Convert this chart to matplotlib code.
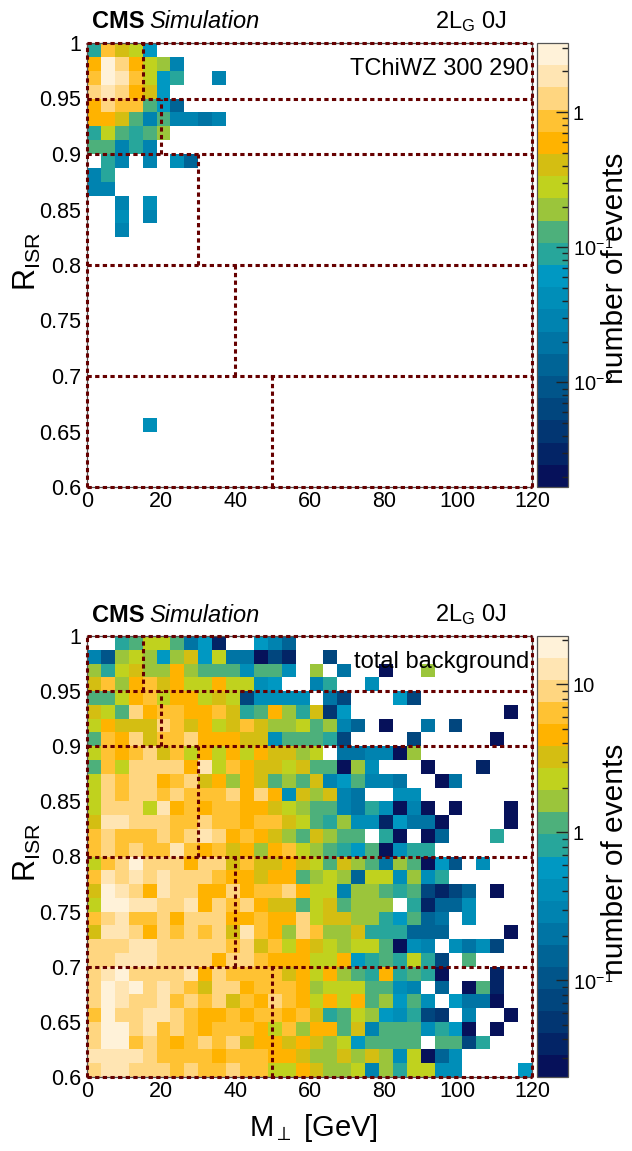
import numpy as np
import matplotlib
matplotlib.use("Agg")
import matplotlib.pyplot as plt
from matplotlib.colors import ListedColormap, LogNorm
from matplotlib.ticker import FixedLocator, FuncFormatter

plt.rcParams['font.family'] = ['Liberation Sans', 'DejaVu Sans']
plt.rcParams['mathtext.fontset'] = 'custom'
plt.rcParams['mathtext.rm'] = 'Liberation Sans'
plt.rcParams['mathtext.it'] = 'Liberation Sans:italic'
plt.rcParams['mathtext.bf'] = 'Liberation Sans:bold'

# ---------------- data ----------------
m_range = (0.0, 120.0)      # M_perp [GeV]
r_range = (0.6, 1.0)        # R_ISR
n_bins = 32

# 20-band palette (lowest -> highest)
band_colors = ['#06115a', '#032466', '#023672', '#01467e', '#01558a',
               '#006496', '#0074a4', '#0083b0', '#008eb8', '#0098c2',
               '#27a69b', '#4db07b', '#9bc53b', '#c0d21e', '#d4be12',
               '#ffb300', '#ffc233', '#ffd680', '#ffe5b3', '#fff2d9']

sig_zrange = (0.00168, 3.25)
bkg_zrange = (0.0223, 21.2)

# colour band read for each bin: '0'-'9','a'-'j' = band 0..19, '.' = empty
# rows from R_ISR = 1 (top) downwards, columns from M_perp = 0
sig_bands = [
    "aged9",
    "fjhfdc7",
    "gjigd9a..7",
    "hihfe9",
    "fhggb95",
    "ffeb7b7767",
    "adbabc",
    "bb7a7",
    ".a7.7.85",
    "7a",
    "77",
    "..7.8",
    "..8.7",
    "..7",
    "", "", "", "", "", "", "", "", "", "", "", "", "",
    "....8",
    "", "", "", "",
]

bkg_bands = [
    "..abddb691. .975....... ..........",
    "74cdc9ce9d6 6031..3.... ..........",
    "cadeccfcbbb 8bb8.c.6..0 ..c.......",
    "egcfgefddfd d89..7a..8. ..........",
    "bbdfgdffded 38888.63... 93........",
    "edbhfggffge abfcae29... ........0.",
    "dfeeehgefde geccdbc75.0 ..6.3.....",
    "bgfhegghfff ee8bbba3... .3.....0..",
    "dgfghegdfdf dfeecd.6677 0c........",
    "bgdhhhhfidg feedebb0c8. ..0...1...",
    "dhghhfghefc febcbe79b77 6..06.....",
    "dhghhghgggh fhf8ece76.. 88........",
    "dhhhdifgfgg ffedcbb76a8 070.0...0.",
    "eiihhhgghgg fggedbac881 9660....0.",
    "ghggghghihf gfecbecbb.a 0.05...a..",
    "ghghggigfge fcfgdcba9b0 8aa.......",
    "dghjhhhfhhe geefedbecb6 cb094.8...",
    "gihihihhhgf feffbcdc5dd 8c8a......",
    "ejihfihhffh fgghfdd7ccb ab3135.0..",
    "djjiihhifhg hfeebdebccc .a1558....",
    "ghigghfhhhf fgffhdeecca 9b56.8....",
    "eiihfhghghe igfchgcceaa a555....0.",
    "hhhiihhhhhg hegdfedcddb 087.8683..",
    "hhiiihhhhfh hgfffddf9ab ada3.b....",
    "hijhhhhifhg gggefdfcbaf aba0...1..",
    "hjijhihgehh fgggfcdddbb 87.5.0b1..",
    "hjihhighghe gfhgfdfdfbc 9b8.9660..",
    "gjhhiihgffg fggfgeabdc9 8a32.7..0.",
    "hjjhighgfgg gfdgcffbe7b bb8a90.0..",
    "hjjghgfghgh effefecd9bb bb.bb3a...",
    "iiiihggggfg ggffeccecec 8d058.....",
    "hiihhhghggh ggddfeccd7c add88....9",
]

region_r = [0.6, 0.7, 0.8, 0.9, 0.95, 1.0]
region_mcut = [50, 40, 30, 20, 15]

# ---------------- helpers ----------------
W, H = 632, 1151


def rect(x0, y0, x1, y1):
    return [x0 / W, 1 - y1 / H, (x1 - x0) / W, (y1 - y0) / H]


def decode(rows, zr):
    lvl = np.full((n_bins, n_bins), np.nan)
    for i, row in enumerate(rows):
        s = row.replace(' ', '').ljust(n_bins, '.')
        assert len(s) == n_bins, (i, len(s))
        for j, ch in enumerate(s):
            if ch != '.':
                lvl[i, j] = int(ch, 36)
    vals = zr[0] * (zr[1] / zr[0]) ** ((lvl + 0.5) / len(band_colors))
    return np.ma.masked_invalid(vals[::-1])


cmap = ListedColormap(band_colors)
m_edges = np.linspace(m_range[0], m_range[1], n_bins + 1)
r_edges = np.linspace(r_range[0], r_range[1], n_bins + 1)

fig = plt.figure(figsize=(W / 100, H / 100), dpi=100)

TICK_FS = 15.5
CB_FS = 14.5
TITLE_FS = 22
HEAD_FS = 17
LINE_COL = '#660000'


def cbar_fmt(v, pos):
    e = int(round(np.log10(v)))
    if e == 0:
        return '1'
    if e == 1:
        return '10'
    return r'$10^{\!-\!%d}$' % (-e)


def panel(top, bot, bands, zr, tag, ylab_y, xlabel):
    ax = fig.add_axes(rect(87, top, 532, bot))
    vals = decode(bands, zr)
    mesh = ax.pcolormesh(m_edges, r_edges, vals, cmap=cmap,
                         norm=LogNorm(vmin=zr[0], vmax=zr[1]))
    ax.set_xlim(*m_range)
    ax.set_ylim(*r_range)
    ax.set_xticks([0, 20, 40, 60, 80, 100, 120])
    ax.set_xticklabels(['0', '20', '40', '60', '80', '100', '120'])
    ax.set_yticks([0.6, 0.65, 0.7, 0.75, 0.8, 0.85, 0.9, 0.95, 1.0])
    ax.set_yticklabels(['0.6', '0.65', '0.7', '0.75', '0.8', '0.85',
                        '0.9', '0.95', '1'])
    ax.tick_params(axis='both', length=0, labelsize=TICK_FS)
    ax.tick_params(axis='x', pad=3)
    ax.tick_params(axis='y', pad=4)
    for sp in ax.spines.values():
        sp.set_edgecolor('#555555')
        sp.set_linewidth(0.9)

    ls = (0, (1.4, 1.1))
    lw = 2.2
    for r in region_r:
        ax.plot(m_range, [r, r], color=LINE_COL, lw=lw, ls=ls,
                clip_on=False, zorder=5)
    for mx in m_range:
        ax.plot([mx, mx], r_range, color=LINE_COL, lw=lw, ls=ls,
                clip_on=False, zorder=5)
    for k, mc in enumerate(region_mcut):
        ax.plot([mc, mc], [region_r[k], region_r[k + 1]], color=LINE_COL,
                lw=lw, ls=ls, clip_on=False, zorder=5)

    # colour bar
    cax = fig.add_axes(rect(537, top, 568, bot))
    cb = fig.colorbar(mesh, cax=cax)
    cb.outline.set_edgecolor('#555555')
    cb.outline.set_linewidth(0.9)
    lo, hi = np.log10(zr[0]), np.log10(zr[1])
    majors = [10.0 ** e for e in range(int(np.ceil(lo)), int(np.floor(hi)) + 1)]
    minors = [m * 10.0 ** e for e in range(int(np.floor(lo)), int(np.ceil(hi)) + 1)
              for m in range(2, 10) if zr[0] <= m * 10.0 ** e <= zr[1]]
    cax.yaxis.set_major_locator(FixedLocator(majors))
    cax.yaxis.set_minor_locator(FixedLocator(minors))
    cax.yaxis.set_major_formatter(FuncFormatter(cbar_fmt))
    cax.yaxis.set_ticks_position('right')
    cax.tick_params(which='major', direction='in', length=9, width=1.0,
                    color='#222222', labelsize=CB_FS, pad=3.5)
    cax.tick_params(which='minor', direction='in', length=4.5, width=1.0,
                    color='#222222')

    # texts
    mid = (top + bot) / 2
    fig.text(27 / W, 1 - ylab_y / H, r'R$_{\mathrm{ISR}}$', rotation=90,
             ha='center', va='center', fontsize=TITLE_FS)
    fig.text(615 / W, 1 - (mid + 3) / H, 'number of events', rotation=90,
             ha='center', va='center', fontsize=21.5)
    hy = 1 - (top - 21) / H
    t1 = fig.text(92 / W, hy, 'CMS', fontweight='bold', fontsize=HEAD_FS,
                  ha='left', va='center')
    fig.canvas.draw()
    bb = t1.get_window_extent()
    fig.text((bb.x1 + 5) / W, hy, 'Simulation', fontstyle='italic',
             fontsize=HEAD_FS, ha='left', va='center')
    fig.text(507 / W, hy, r'2L$_{\mathrm{G}}$ 0J', fontsize=HEAD_FS,
             ha='right', va='center')
    fig.text(529 / W, 1 - (top + 26) / H, tag, fontsize=HEAD_FS,
             ha='right', va='center')
    if xlabel:
        fig.text(313 / W, 1 - 1128 / H, r'M$_{\perp}$ [GeV]',
                 fontsize=21, ha='center', va='center')
    return ax


panel(43, 487, sig_bands, sig_zrange, 'TChiWZ 300 290', 262, False)
panel(636, 1077, bkg_bands, bkg_zrange, 'total background', 853, True)

fig.savefig('out.png', dpi=100)
